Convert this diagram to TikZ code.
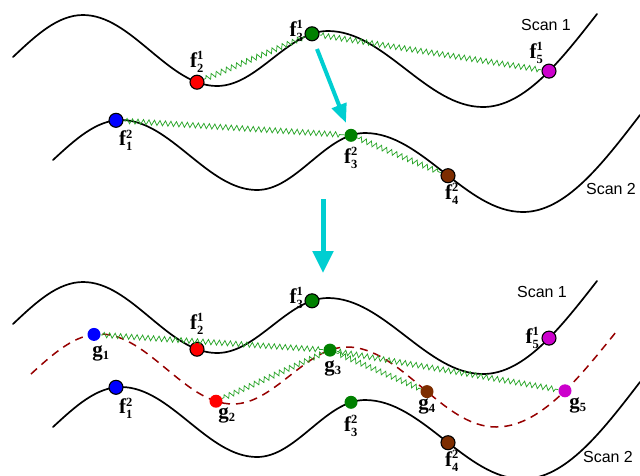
\documentclass[tikz,border=0pt]{standalone}
\usepackage{fontspec}
\setmainfont{Liberation Serif}
\newfontfamily\scanfont{Liberation Sans}
\usepackage{tikz}
\usetikzlibrary{arrows.meta,positioning,decorations.pathmorphing}
\DeclareMathSizes{21}{21}{12.5}{9}

\definecolor{fgreen}{RGB}{0,128,0}
\definecolor{fbrown}{RGB}{125,45,0}
\definecolor{fmagenta}{RGB}{204,0,204}
\definecolor{springgreen}{RGB}{40,165,40}
\definecolor{dashred}{RGB}{150,0,0}
\definecolor{arrowcyan}{RGB}{0,206,209}

% scan profiles (one sine piece per quarter wave)
\newcommand{\scanone}{(13,-57) sin (83,-15) cos (150,-50.5) sin (217,-86) cos (272.5,-58.5) sin (328,-31) cos (405.5,-69) sin (483,-107) cos (597,-14)}
\newcommand{\scantwo}{(53,-160) sin (121,-120) cos (189,-155) sin (257,-190) cos (311,-161.5) sin (365,-133) cos (444,-172.5) sin (523,-212) cos (640,-115)}
\newcommand{\flab}[2]{$\mathbf{f}^{\mathbf{#1}}_{\mathbf{#2}}$}
\newcommand{\glab}[1]{$\mathbf{g}_{\mathbf{#1}}$}

\begin{document}
\begin{tikzpicture}[
    x = 1pt, y = 1pt, % one unit = one pixel
    scan/.style = {line width=1.7pt, line cap=round},
    merged/.style = {line width=1.5pt, draw=dashred, dash pattern=on 8pt off 6pt},
    spring/.style = {draw=springgreen, line width=0.75pt, decorate,
        decoration={zigzag, segment length=5.5pt, amplitude=2.6pt, pre length=2pt, post length=2pt}},
    fdot/.style = {circle, draw=black, line width=1.1pt, fill=#1, minimum size=14pt, inner sep=0pt},
    gdot/.style = {circle, fill=#1, minimum size=13pt, inner sep=0pt},
    lab/.style = {inner sep=0pt, font=\fontsize{21}{25}\selectfont},
    scanlab/.style = {inner sep=0pt, font=\scanfont\fontsize{16}{18}\selectfont}
    ]

    \useasboundingbox (0,0) rectangle (640,-475);

    % two scans
    \draw[scan] \scanone;
    \draw[scan] \scantwo;
    \node[fdot=red] (f21) at (197,-82.2) {};
    \node[fdot=fgreen] (f31) at (312,-33.8) {};
    \node[fdot=fmagenta] (f51) at (549,-71.1) {};
    \node[fdot=blue] (f12) at (116,-120.3) {};
    \node[gdot=fgreen] (f32) at (351,-135.3) {};
    \node[fdot=fbrown] (f42) at (448,-175.7) {};

    \draw[spring] (f21) -- (f31);
    \draw[spring] (f31) -- (f51);
    \draw[spring] (f12) -- (f32);
    \draw[spring] (f32) -- (f42);

    \node[lab] (lf21) [above=2pt of f21] {\flab{1}{2}};
    \node[lab] (lf31) [left=1pt of f31, yshift=3pt] {\flab{1}{3}};
    \node[lab] (lf51) [above left=2pt and 0pt of f51] {\flab{1}{5}};
    \node[lab] (lf12) [below=2pt of f12, xshift=10pt] {\flab{2}{1}};
    \node[lab] (lf32) [below=5pt of f32] {\flab{2}{3}};
    \node[lab] (lf42) [below=0pt of f42, xshift=4pt] {\flab{2}{4}};
    \node[scanlab] (s1) at (546,-25) {Scan 1};
    \node[scanlab] (s2) at (611,-189) {Scan 2};

    % arrows
    \coordinate (a1) at (317,-49);
    \coordinate (a2) at (346,-123);
    \coordinate (b1) at (323,-199);
    \coordinate (b2) at (323,-273);
    \draw[draw=arrowcyan, line width=4pt, -{Triangle[length=19pt,width=15pt]}] (a1) -- (a2);
    \draw[draw=arrowcyan, line width=5pt, -{Triangle[length=22pt,width=20pt]}] (b1) -- (b2);

    % merged result
    \begin{scope}[yshift=-267pt]
    \draw[scan] \scanone;
    \draw[scan] \scantwo;
    \node[fdot=red] (f21m) at (197,-82.2) {};
    \node[fdot=fgreen] (f31m) at (312,-33.8) {};
    \node[fdot=fmagenta] (f51m) at (549,-71.1) {};
    \node[fdot=blue] (f12m) at (116,-120.3) {};
    \node[gdot=fgreen] (f32m) at (351,-135.3) {};
    \node[fdot=fbrown] (f42m) at (448,-175.7) {};
    \node[lab] (lf21m) [above=7pt of f21m] {\flab{1}{2}};
    \node[lab] (lf31m) [left=1pt of f31m, yshift=3pt] {\flab{1}{3}};
    \node[lab] (lf51m) [left=2pt of f51m] {\flab{1}{5}};
    \node[lab] (lf12m) [below=3pt of f12m, xshift=10pt] {\flab{2}{1}};
    \node[lab] (lf32m) [below=6pt of f32m] {\flab{2}{3}};
    \node[lab] (lf42m) [below=0pt of f42m, xshift=4pt] {\flab{2}{4}};
    \node[scanlab] (s1m) at (542,-25) {Scan 1};
    \node[scanlab] (s2m) at (608,-190) {Scan 2};
    \end{scope}

    \draw[merged] (31,-374) sin (100,-334) cos (166.5,-369) sin (233,-404) cos (290,-375.5) sin (347,-347) cos (421.5,-387) sin (496,-427) cos (616,-332);
    \node[gdot=blue] (g1) at (94,-334.4) {};
    \node[gdot=red] (g2) at (216,-401.2) {};
    \node[gdot=fgreen] (g3) at (330,-350.1) {};
    \node[gdot=fbrown] (g4) at (427,-391.6) {};
    \node[gdot=fmagenta] (g5) at (565,-390.8) {};

    \draw[spring] (g1) -- (g3);
    \draw[spring] (g2) -- (g3);
    \draw[spring] (g3) -- (g4);
    \draw[spring] (g3) -- (g5);

    \node[lab] (lg1) [below=4pt of g1, xshift=7pt] {\glab{1}};
    \node[lab] (lg2) [below=0pt of g2, xshift=11pt] {\glab{2}};
    \node[lab] (lg3) [below=4pt of g3, xshift=3pt] {\glab{3}};
    \node[lab] (lg4) [below=0pt of g4] {\glab{4}};
    \node[lab] (lg5) [below=0pt of g5, xshift=13pt] {\glab{5}};
\end{tikzpicture}
\end{document}
